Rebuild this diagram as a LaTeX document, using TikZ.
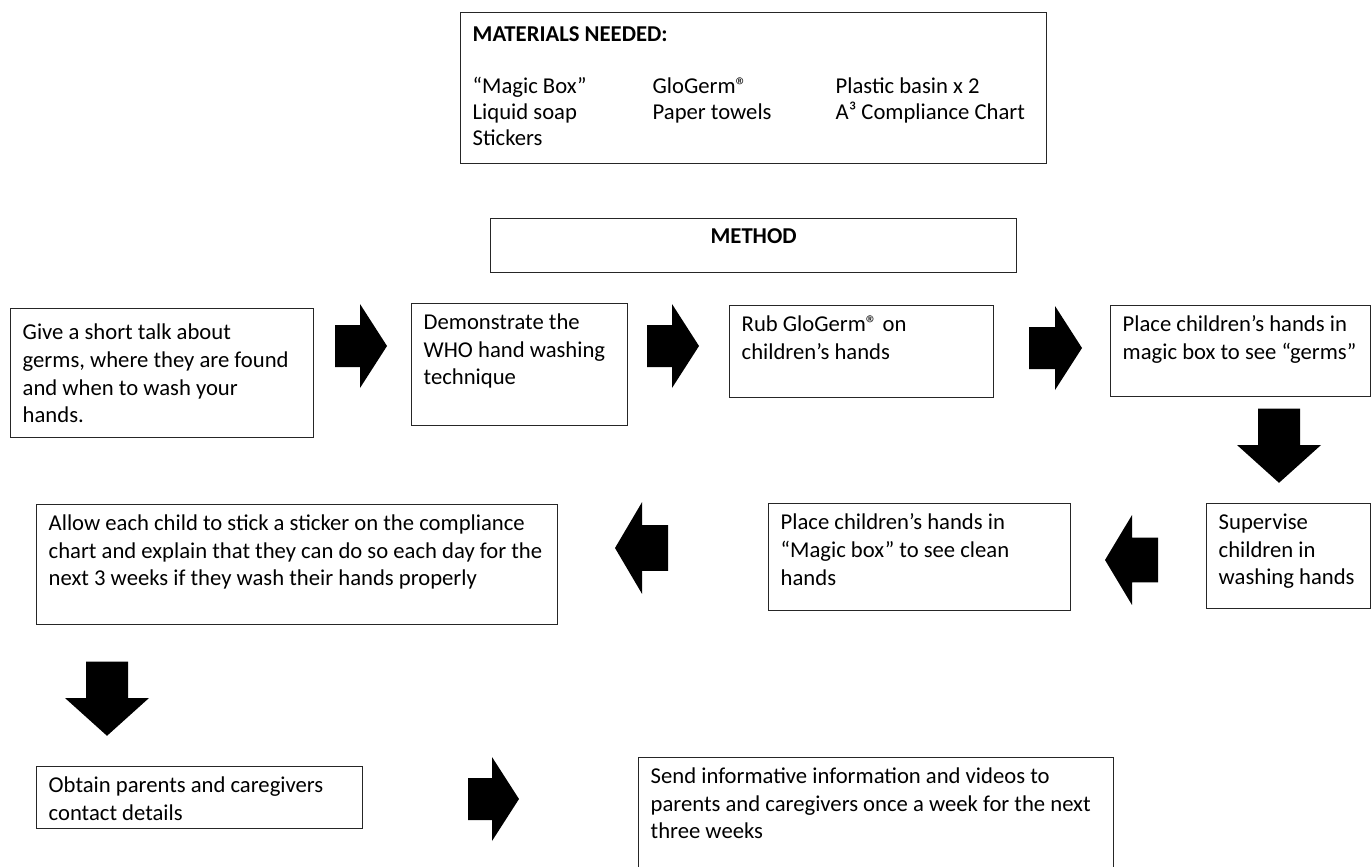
\documentclass[tikz,border=0pt]{standalone}
\usepackage{fontspec}
\setmainfont{Carlito}
\usepackage{tikz}
\usetikzlibrary{calc}

\newcommand{\boxtext}[3]{\parbox[t][#2][t]{#1}{\raggedright #3}}

\begin{document}
\begin{tikzpicture} [x=0.02cm, y=-0.02cm,
      stepbox/.style={draw=black!85, line width=0.8pt, anchor=north west,
        inner xsep=0.24cm, inner ysep=0.2cm,
        font=\fontsize{12.9}{15.8}\selectfont},
      blockarrow/.pic={\fill[black] (-#1,-21) -- (0,-21) -- (0,-42) -- (27,0)
        -- (0,42) -- (0,21) -- (-#1,21) -- cycle;}]
      \useasboundingbox (0,0) rectangle (1372,866);

      \node[stepbox] (materials) at (460,12) {\boxtext{11.24cm}{2.62cm}{%
        \vspace*{2pt}\textbf{MATERIALS NEEDED:}\par\vspace{18pt}
        {\renewcommand{\arraystretch}{0.95}%
        \begin{tabular}{@{}p{3.6cm}@{}p{3.66cm}@{}l@{}}
          “Magic Box” & GloGerm® & Plastic basin x 2 \\
          Liquid soap & Paper towels & A³ Compliance Chart \\
          Stickers & & \\
        \end{tabular}}}};
      \node[stepbox] (method) at (490,218)
        {\boxtext{10.04cm}{0.68cm}{\centering\textbf{METHOD}}};

      % first row
      \node[stepbox] (talk) at (10,308) {\boxtext{5.58cm}{2.18cm}{\vspace*{3pt}Give a short talk about\\
        germs, where they are found\\and when to wash your\\hands.}};
      \node[stepbox] (demo) at (411,303) {\boxtext{3.84cm}{2.04cm}{Demonstrate the\\
        WHO hand washing\\technique}};
      \node[stepbox] (rub) at (729,305) {\boxtext{4.8cm}{1.44cm}{Rub GloGerm® on\\
        children’s hands}};
      \node[stepbox] (seegerms) at (1110,305) {\boxtext{4.72cm}{1.42cm}{Place children’s hands in\\
        magic box to see “germs”}};

      % second row
      \node[stepbox] (supervise) at (1206,503) {\boxtext{2.8cm}{1.7cm}{Supervise\\
        children in\\washing hands}};
      \node[stepbox] (seeclean) at (768,503) {\boxtext{5.56cm}{1.74cm}{Place children’s hands in\\
        “Magic box” to see clean\\hands}};
      \node[stepbox] (sticker) at (36,504) {\boxtext{9.94cm}{2.0cm}{Allow each child to stick a sticker on the compliance\\
        chart and explain that they can do so each day for the\\
        next 3 weeks if they wash their hands properly}};

      % last row
      \node[stepbox] (contact) at (36,766) {\boxtext{6.04cm}{0.84cm}{Obtain parents and caregivers\\
        contact details}};
      \node[stepbox] (send) at (638,757) {\boxtext{9.02cm}{2.06cm}{Send informative information and videos to\\
        parents and caregivers once a week for the next\\three weeks}};

      % block arrows
      \foreach \x/\y/\s in {360/346/25, 672/346/25, 1055/348/26, 492/799/24} {
        \pic at (\x,\y) {blockarrow=\s};
      };
      \foreach \x/\y in {1279/445, 107/698} {
        \pic[rotate=-90, xscale=1.4] at (\x,\y) {blockarrow=26};
      };
      \pic[rotate=180, yscale=1.07] at (1132,560) {blockarrow=26};
      \pic[rotate=180, yscale=1.09] at (642,548) {blockarrow=26};
    \end{tikzpicture}
\end{document}
